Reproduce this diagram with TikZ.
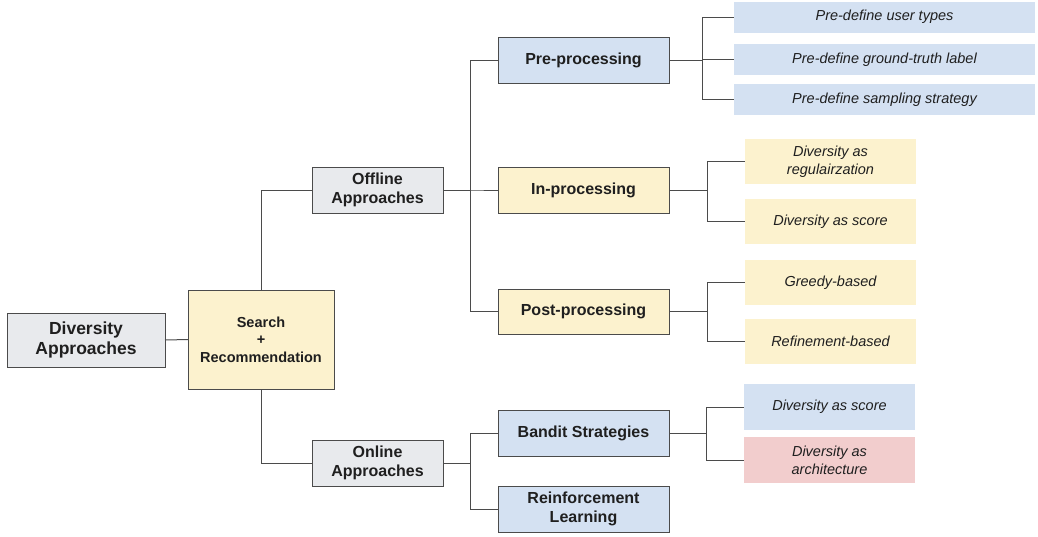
\documentclass[tikz,border=0pt]{standalone}
\usepackage{fontspec}
\setmainfont{Liberation Sans}
\usepackage{tikz}
\usetikzlibrary{positioning}
\definecolor{boxgray}{RGB}{232,234,237}
\definecolor{boxyellow}{RGB}{252,242,206}
\definecolor{boxblue}{RGB}{212,225,242}
\definecolor{boxred}{RGB}{242,205,205}
\definecolor{edgegray}{RGB}{75,75,75}

\begin{document}
\begin{tikzpicture}[x=1pt, y=-1pt]
  \useasboundingbox (0,0) rectangle (1038,536);
  \begin{scope}[every node/.style={inner sep=0, outer sep=0, align=center, text=black!88},
      mybox/.style={draw=edgegray, line width=1pt},
      midfont/.style={font=\bfseries\fontsize{16}{19}\selectfont},
      myleaf/.style={font=\itshape\fontsize{14.5}{17.7}\selectfont, minimum width=171, minimum height=45},
      wire/.style={draw=edgegray, line width=1pt}]
    % root and first level
    \node (div) [mybox, fill=boxgray, minimum width=158, minimum height=54, font=\bfseries\fontsize{17.5}{20.7}\selectfont] at (86,340) {Diversity\\Approaches};
    \node (search) [mybox, fill=boxyellow, minimum width=146, minimum height=99, font=\bfseries\fontsize{14.5}{17.5}\selectfont] at (261,339.5) {Search\\+\\Recommendation};
    \node (offline) [mybox, fill=boxgray, minimum width=131, minimum height=46, midfont] at (377.5,190) {Offline\\Approaches};
    \node (online) [mybox, fill=boxgray, minimum width=131, minimum height=46, midfont] at (377.5,463) {Online\\Approaches};
    % second level
    \node (pre) [mybox, fill=boxblue, minimum width=171, minimum height=46, midfont] at (583.5,60) {Pre-processing};
    \node (in) [mybox, fill=boxyellow, minimum width=171, minimum height=46, midfont] at (583.5,190) {In-processing};
    \node (post) [mybox, fill=boxyellow, minimum width=171, minimum height=45, midfont] at (583.5,311.5) {Post-processing};
    \node (bandit) [mybox, fill=boxblue, minimum width=171, minimum height=46, midfont] at (583.5,433) {Bandit Strategies};
    \node (rl) [mybox, fill=boxblue, minimum width=171, minimum height=46, midfont] at (583.5,509) {Reinforcement\\Learning};
    % leaves
    \node (pre1) [myleaf, fill=boxblue, minimum width=301, minimum height=31] at (884.5,17) {Pre-define user types};
    \node (pre2) [myleaf, fill=boxblue, minimum width=301, minimum height=31] at (884.5,59.5) {Pre-define ground-truth label};
    \node (pre3) [myleaf, fill=boxblue, minimum width=301, minimum height=31] at (884.5,99.5) {Pre-define sampling strategy};
    \node (in1) [myleaf, fill=boxyellow] at (830.5,161.5) {Diversity as\\regulairzation};
    \node (in2) [myleaf, fill=boxyellow] at (830.5,221.5) {Diversity as score};
    \node (post1) [myleaf, fill=boxyellow] at (830.5,282.5) {Greedy-based};
    \node (post2) [myleaf, fill=boxyellow] at (830.5,341.5) {Refinement-based};
    \node (band1) [myleaf, fill=boxblue, minimum height=46] at (829.5,407) {Diversity as score};
    \node (band2) [myleaf, fill=boxred, minimum height=46] at (829.5,460) {Diversity as\\architecture};
    % connectors
    \draw [wire] (div.east) -- (search.west);
    \draw [wire] (search.north) |- (offline.west);
    \draw [wire] (search.south) |- (online.west);
    \foreach \x in {pre,in,post} {\draw [wire] (offline.east) -- ++(27,0) |- (\x.west);};
    \foreach \x in {bandit,rl} {\draw [wire] (online.east) -- ++(27,0) |- (\x.west);};
    \foreach \x in {pre1,pre2,pre3} {\draw [wire] (pre.east) -- ++(33,0) |- (\x.west);};
    \foreach \x in {in1,in2} {\draw [wire] (in.east) -- ++(38,0) |- (\x.west);};
    \foreach \x in {post1,post2} {\draw [wire] (post.east) -- ++(38,0) |- (\x.west);};
    \foreach \x in {band1,band2} {\draw [wire] (bandit.east) -- ++(37,0) |- (\x.west);};
  \end{scope}
\end{tikzpicture}
\end{document}
